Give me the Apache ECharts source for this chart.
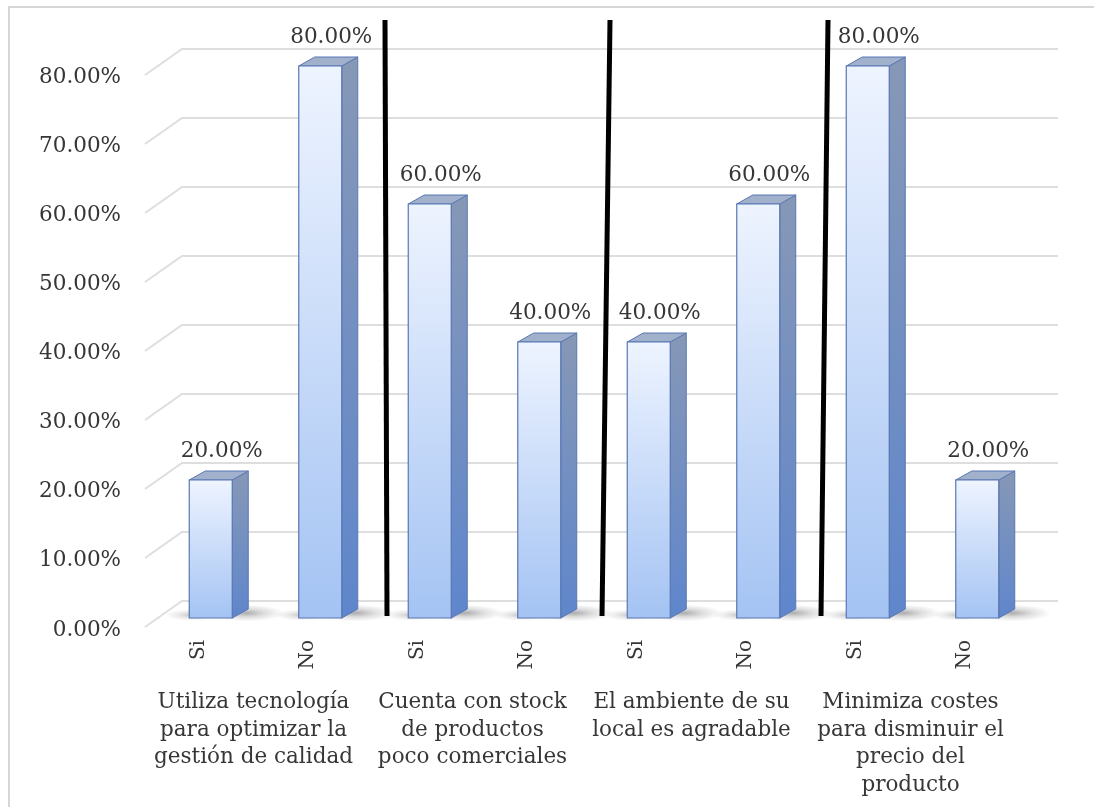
<!DOCTYPE html>
<html>
<head>
<meta charset="utf-8">
<script src="https://cdn.jsdelivr.net/npm/echarts@6/dist/echarts.min.js"></script>
<style>
  html, body { margin: 0; padding: 0; background: #ffffff; }
  #chart { width: 1094px; height: 807px; }
</style>
</head>
<body>
<div id="chart"></div>
<script>
// Answers under each bar, question for each Si/No pair, share of respondents (%)
const answers = ['Si', 'No', 'Si', 'No', 'Si', 'No', 'Si', 'No'];
const questions = [
  'Utiliza tecnología\npara optimizar la\ngestión de calidad',
  'Cuenta con stock\nde productos\npoco comerciales',
  'El ambiente de su\nlocal es agradable',
  'Minimiza costes\npara disminuir el\nprecio del\nproducto'
];
const percentages = [20, 80, 60, 40, 40, 60, 80, 20];
const yTicks = [0, 10, 20, 30, 40, 50, 60, 70, 80];
// Separators sit after the second bar of each of the first three pairs
const separatorAfter = [1, 3, 5];

const FONT = 'DejaVu Serif';
const TEXT = '#363636';

const chart = echarts.init(document.getElementById('chart'), null, { renderer: 'canvas' });

// Bar plane (grid 0) and front plane of the 3D box (grids 1 and 2)
const barGrid = { left: 156, right: 62, top: 66, bottom: 189 };
const frontGrid = { left: 144, right: 74, top: 77, bottom: 177 };

function pct(v) { return v.toFixed(2) + '%'; }

// Back-wall gridlines with the short diagonal along the left side wall
function renderGridline(params, api) {
  const cs = params.coordSys;
  const y = api.coord([0, api.value(1)])[1];
  return {
    type: 'polyline',
    shape: { points: [[cs.x - 11, y + 9], [cs.x + 26, y - 17], [cs.x + cs.width + 26, y - 17]] },
    style: { stroke: '#dedede', lineWidth: 2, fill: null },
    silent: true
  };
}

// Soft flattened blob used as the floor shadow of a column
function floorShadow(cx, cy, r, alpha) {
  return {
    type: 'circle',
    x: cx, y: cy, scaleY: 0.22,
    shape: { cx: 0, cy: 0, r: r },
    style: {
      fill: {
        type: 'radial', x: 0.5, y: 0.5, r: 0.5,
        colorStops: [
          { offset: 0, color: 'rgba(70,70,70,' + alpha + ')' },
          { offset: 0.5, color: 'rgba(80,80,80,' + (alpha * 0.4) + ')' },
          { offset: 1, color: 'rgba(80,80,80,0)' }
        ]
      }
    },
    silent: true
  };
}

// 3D column: floor shadow, front face, side face, top face and value label
function renderBar(params, api) {
  const idx = api.value(0);
  const val = api.value(1);
  const top = api.coord([idx, val]);
  const base = api.coord([idx, 0]);
  const w = 43, dx = 16, dy = 9;
  const x0 = top[0] - w / 2, x1 = top[0] + w / 2;
  const yt = top[1], yb = base[1];
  const edge = '#5877b3';
  return {
    type: 'group',
    children: [
      floorShadow(x1 + 14, yb - 5, 38, 0.45),
      floorShadow(x0 + 2, yb - 3, 26, 0.3),
      {
        type: 'polygon',
        shape: { points: [[x1, yt], [x1 + dx, yt - dy], [x1 + dx, yb - dy], [x1, yb]] },
        style: {
          fill: {
            type: 'linear', x: 0, y: 0, x2: 0, y2: 1,
            colorStops: [
              { offset: 0, color: '#8798b6' },
              { offset: 1, color: '#5f86cc' }
            ]
          },
          stroke: edge, lineWidth: 1
        }
      },
      {
        type: 'polygon',
        shape: { points: [[x0, yt], [x0 + dx, yt - dy], [x1 + dx, yt - dy], [x1, yt]] },
        style: { fill: '#a2b1cb', stroke: edge, lineWidth: 1 }
      },
      {
        type: 'rect',
        shape: { x: x0, y: yt, width: w, height: yb - yt },
        style: {
          fill: {
            type: 'linear', x: 0, y: 0, x2: 0, y2: 1,
            colorStops: [
              { offset: 0, color: '#eef4ff' },
              { offset: 1, color: '#a4c3f3' }
            ]
          },
          stroke: edge, lineWidth: 1.2
        }
      },
      {
        type: 'text',
        style: {
          text: pct(val),
          x: top[0] + 11, y: yt - 29,
          align: 'center', verticalAlign: 'middle',
          font: '21.5px "' + FONT + '"', fill: TEXT
        }
      }
    ]
  };
}

// Thick black dividers between question pairs
function renderSeparator(params, api) {
  const i = api.value(0);
  const a = api.coord([i, 0]);
  const b = api.coord([i + 1, 0]);
  const topY = api.coord([i, 80])[1] - 46;
  const x = (a[0] + b[0]) / 2 + 11;
  const tilt = [[-1, 1], [5, -3], [4, -3]][params.dataIndex];
  return {
    type: 'line',
    shape: { x1: x + tilt[0], y1: topY, x2: x + tilt[1], y2: a[1] - 2 },
    style: { stroke: '#000000', lineWidth: 5 },
    silent: true
  };
}

const option = {
  backgroundColor: '#ffffff',
  animation: false,
  graphic: [{
    type: 'rect',
    shape: { x: 9, y: 7, width: 1100, height: 820 },
    style: { fill: null, stroke: '#d6d6d6', lineWidth: 2 },
    silent: true, z: -10
  }],
  grid: [
    Object.assign({}, barGrid),
    Object.assign({}, frontGrid),
    Object.assign({}, frontGrid)
  ],
  xAxis: [
    { type: 'category', gridIndex: 0, data: answers, show: false },
    {
      type: 'category', gridIndex: 1, data: answers,
      axisLine: { show: false }, axisTick: { show: false },
      axisLabel: { rotate: 90, margin: 10, fontFamily: FONT, fontSize: 20, color: TEXT }
    },
    {
      type: 'category', gridIndex: 2, data: questions,
      axisLine: { show: false }, axisTick: { show: false },
      axisLabel: {
        margin: 59, fontFamily: FONT, fontSize: 21.5, color: TEXT,
        lineHeight: 27.5, align: 'center', interval: 0
      }
    }
  ],
  yAxis: [
    { type: 'value', gridIndex: 0, min: 0, max: 80, interval: 10, show: false },
    {
      type: 'value', gridIndex: 1, min: 0, max: 80, interval: 10,
      axisLine: { show: false }, axisTick: { show: false }, splitLine: { show: false },
      axisLabel: { margin: 23, fontFamily: FONT, fontSize: 21.5, color: TEXT, formatter: pct }
    },
    { type: 'value', gridIndex: 2, min: 0, max: 80, show: false }
  ],
  series: [
    {
      type: 'custom', xAxisIndex: 0, yAxisIndex: 0, z: 1,
      renderItem: renderGridline,
      data: yTicks.map(v => [0, v])
    },
    {
      type: 'custom', xAxisIndex: 0, yAxisIndex: 0, z: 3,
      renderItem: renderSeparator,
      data: separatorAfter.map(i => [i, 0])
    },
    {
      type: 'custom', xAxisIndex: 0, yAxisIndex: 0, z: 2,
      renderItem: renderBar,
      data: percentages.map((v, i) => [i, v])
    }
  ]
};

chart.setOption(option);
</script>
</body>
</html>
